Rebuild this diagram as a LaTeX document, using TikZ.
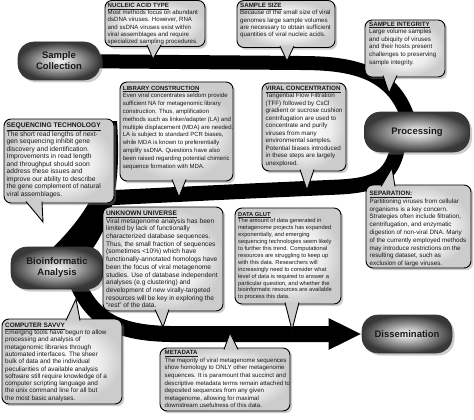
\documentclass[tikz,border=0pt]{standalone}
\usepackage{fontspec}
\setmainfont{Liberation Sans}
\usetikzlibrary{shadows,calc,arrows.meta}
\pgfdeclarelayer{bg}
\pgfsetlayers{bg,main}
\pgfdeclareradialshading{pillshade}{\pgfpoint{0bp}{0bp}}{color(0bp)=(white!95!black); color(6bp)=(white!82!black); color(25bp)=(black!78); color(50bp)=(black!78)}
\pgfdeclareradialshading{bubshade}{\pgfpoint{0bp}{0bp}}{color(0bp)=(white); color(16bp)=(white!93!black); color(25bp)=(white!80!black); color(50bp)=(white!80!black)}
\newcommand\bubtitle[1]{\textbf{\underline{#1}}}
\newcommand\tailpart[4]{%
  \fill[tailfill] (#1,#3) -- (#4) -- (#2,#3) -- cycle;
  \draw[tailline] (#1,#3) -- (#4) -- (#2,#3);}
\tikzset{
  band/.style={draw=black, line width=#1, line join=round},
  pill/.style={rectangle, rounded corners=16pt, shade, shading=pillshade, draw=black!80, line width=0.6pt,
    font=\bfseries\fontsize{9.5}{11}\selectfont, text=black!90, align=center, inner sep=2pt,
    drop shadow={opacity=0.4, shadow xshift=2.5pt, shadow yshift=-2.5pt}},
  bubbody/.style={rounded corners=7pt, shade, shading=bubshade, draw=black, line width=0.9pt,
    drop shadow={opacity=0.4, shadow xshift=2.2pt, shadow yshift=-2.2pt}},
  bubtext/.style={anchor=north west, inner sep=0pt, align=left, text=black!90},
  tailfill/.style={fill=white!80!black},
  tailline/.style={draw=black, line width=0.9pt, line join=miter},
}
\begin{document}
\begin{tikzpicture}[x=1pt,y=-1pt]
\useasboundingbox (0,0) rectangle (474,420);

% ---------- stage pills ----------
\node[pill, minimum width=82pt, minimum height=38pt] (sc) at (59,61) {Sample\\Collection};
\node[pill, minimum width=105pt, minimum height=40pt] (proc) at (417,132) {Processing};
\node[pill, minimum width=92pt, minimum height=42pt] (bio) at (57,268) {Bioinformatic\\Analysis};
\node[pill, minimum width=90pt, minimum height=38pt] (diss) at (407,334) {Dissemination};

% ---------- band coordinates ----------
\coordinate (t1) at (300,63);
\coordinate (t2) at (408,118);
\coordinate (m0) at (398,146);
\coordinate (m1) at (340,187);
\coordinate (m2) at (250,191);
\coordinate (m3) at (104,198);
\coordinate (b0) at (70,262);
\coordinate (b1) at (170,334);

\begin{pgfonlayer}{bg}
  \fill[white] (0,0) rectangle (474,420);
  \draw[band=14pt] (sc.center) -- (t1) .. controls (350,63) and (392,70) .. (t2);
  \draw[band=15pt] (m0) .. controls (392,178) and (375,185) .. (m1) -- (m2) -- (m3);
  \fill[black] (109,121) .. controls (107,160) and (105,200) .. (45,255) -- (80,264)
     .. controls (115,228) and (121,180) .. (117,121) -- cycle;
  \draw[band=16pt, -{Triangle[length=33pt,width=29pt]}] (b0) .. controls (85,315) and (110,333) .. (b1) -- (diss.west);
\end{pgfonlayer}

% ---------- NUCLEIC ACID TYPE ----------
\coordinate (natTip) at (153,59);
\path[bubbody] (105,0.5) rectangle (205,46.5);
\tailpart{147}{161}{45}{natTip}
\node[bubtext, font=\fontsize{6.1}{7.3}\selectfont] (nat) at (107.5,2.8) {\bubtitle{NUCLEIC ACID TYPE}\\
Most methods focus on abundant\\
dsDNA viruses. However, RNA\\
and ssDNA viruses exist within\\
viral assemblages and require\\
specialized sampling procedures.};

% ---------- SAMPLE SIZE ----------
\coordinate (ssTip) at (287,61);
\path[bubbody] (237,0.5) rectangle (335,47.5);
\tailpart{280}{294}{46}{ssTip}
\node[bubtext, font=\fontsize{6.2}{7.4}\selectfont] (ss) at (240,2.8) {\bubtitle{SAMPLE SIZE}\\
Because of the small size of viral\\
genomes large sample volumes\\
are necessary to obtain sufficient\\
quantities of viral nucleic acids.};

% ---------- SAMPLE INTEGRITY ----------
\coordinate (siTip) at (389,93);
\path[bubbody] (365,20) rectangle (445,77);
\tailpart{383}{397}{75.5}{siTip}
\node[bubtext, font=\fontsize{6.2}{7.6}\selectfont] (si) at (369,21.6) {\bubtitle{SAMPLE INTEGRITY}\\
Large volume samples\\
and ubiquity of viruses\\
and their hosts present\\
challenges to preserving\\
sample integrity.};

% ---------- LIBRARY CONSTRUCTION ----------
\coordinate (libTip) at (179,197);
\path[bubbody] (120,82) rectangle (233,181);
\tailpart{172}{186}{179.5}{libTip}
\node[bubtext, font=\fontsize{6}{7.8}\selectfont] (lib) at (122.7,85.8) {\bubtitle{LIBRARY CONSTRUCTION}\\
Even viral concentrates seldom provide\\
sufficient NA for metagenomic library\\
construction.  Thus, amplification\\
methods such as linker/adapter (LA) and\\
multiple displacement (MDA) are needed.\\
LA is subject to standard PCR biases,\\
while MDA is known to preferentially\\
amplify ssDNA.  Questions have also\\
been raised regarding potential chimeric\\
sequence formation with MDA.};

% ---------- VIRAL CONCENTRATION ----------
\coordinate (vcTip) at (307,190);
\path[bubbody] (262,83) rectangle (346,171);
\tailpart{300}{314}{169.5}{vcTip}
\node[bubtext, font=\fontsize{6.25}{7.5}\selectfont] (vc) at (265.5,85.8) {\bubtitle{VIRAL CONCENTRATION}\\
Tangential Flow Filtration\\
(TFF) followed by CsCl\\
gradient or sucrose cushion\\
centrifugation are used to\\
concentrate and purify\\
viruses from many\\
environmental samples.\\
Potential biases introduced\\
in these steps are largely\\
unexplored.};

% ---------- SEQUENCING TECHNOLOGY ----------
\coordinate (seqTip) at (43,222);
\path[bubbody] (4,119) rectangle (114,203);
\tailpart{26}{42}{201.5}{seqTip}
\node[bubtext, font=\fontsize{6.7}{7.5}\selectfont] (seq) at (6.5,122.4) {\bubtitle{SEQUENCING TECHNOLOGY}\\
The short read lengths of next-\\
gen sequencing inhibit gene\\
discovery and identification.\\
Improvements in read length\\
and throughput should soon\\
address these issues and\\
improve our ability to describe\\
the gene complement of natural\\
viral assemblages.};

% ---------- SEPARATION ----------
\coordinate (sepTip) at (392,168);
\path[bubbody] (366,185) rectangle (471,268);
\tailpart{381}{395}{186.5}{sepTip}
\node[bubtext, font=\fontsize{6.3}{7.8}\selectfont] (sep) at (369.5,190.8) {\bubtitle{SEPARATION:}\\
Partitioning viruses from cellular\\
organisms is a key concern.\\
Strategies often include filtration,\\
centrifugation, and enzymatic\\
digestion of non-viral DNA.  Many\\
of the currently employed methods\\
may introduce restrictions on the\\
resulting dataset, such as\\
exclusion of large viruses.};

% ---------- UNKNOWN UNIVERSE ----------
\coordinate (uuTip) at (163,327);
\path[bubbody] (103,207) rectangle (223,311);
\tailpart{155}{169}{309.5}{uuTip}
\node[bubtext, font=\fontsize{6.6}{7.7}\selectfont] (uu) at (106,210.6) {\bubtitle{UNKNOWN UNIVERSE}\\
Viral metagenome analysis has been\\
limited by lack of functionally\\
characterized database sequences.\\
Thus, the small fraction of sequences\\
(sometimes <10\%) which have\\
functionally-annotated homologs have\\
been the focus of viral metagenome\\
studies.  Use of database independent\\
analyses (e.g clustering) and\\
development of new virally-targeted\\
resources will be key in exploring the\\
``rest'' of the data.};

% ---------- DATA GLUT ----------
\coordinate (dgTip) at (292,330);
\path[bubbody] (235,208) rectangle (341,304);
\tailpart{285}{299}{302.5}{dgTip}
\node[bubtext, font=\fontsize{5.75}{6.9}\selectfont] (dg) at (238,211.8) {\bubtitle{DATA GLUT}\\
The amount of data generated in\\
metagenome projects has expanded\\
exponentially, and emerging\\
sequencing technologies seem likely\\
to further this trend.  Computational\\
resources are struggling to keep up\\
with this data.  Researchers will\\
increasingly need to consider what\\
level of data is required to answer a\\
particular question, and whether the\\
bioinformatic resources are available\\
to process this data.};

% ---------- METADATA ----------
\coordinate (mdTip) at (230,333);
\path[bubbody] (160,348) rectangle (290,411);
\tailpart{224}{238}{349.5}{mdTip}
\node[bubtext, font=\fontsize{6.1}{7.6}\selectfont] (md) at (164.5,350.3) {\bubtitle{METADATA}\\
The majority of viral metagenome sequences\\
show homology to ONLY other metagenome\\
sequences.  It is paramount that succinct and\\
descriptive metadata terms remain attached to\\
deposited sequences from any given\\
metagenome, allowing for maximal\\
downstream usefulness of this data.};

% ---------- COMPUTER SAVVY ----------
\coordinate (csTip) at (76,299);
\path[bubbody] (2,319) rectangle (122,404);
\tailpart{66}{80}{320.5}{csTip}
\node[bubtext, font=\fontsize{6.4}{7.3}\selectfont] (cs) at (5,322.6) {\bubtitle{COMPUTER SAVVY}\\
Emerging tools have begun to allow\\
processing and analysis of\\
metagenomic libraries through\\
automated interfaces.  The sheer\\
bulk of data and the individual\\
peculiarities of available analysis\\
software still require knowledge of a\\
computer scripting language and\\
the unix command line for all but\\
the most basic analyses.};
\end{tikzpicture}
\end{document}
